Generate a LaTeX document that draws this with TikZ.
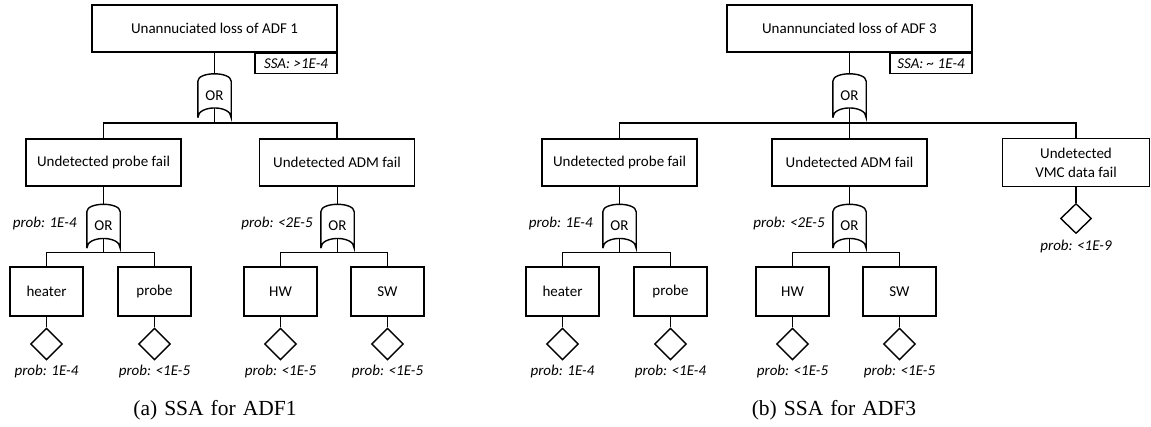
\documentclass[tikz,border=0pt]{standalone}
\usepackage{fontspec}
\setmainfont{Carlito}
\newfontfamily\capfont{Liberation Serif}
\usetikzlibrary{shapes.geometric,calc}

\tikzset{
  ln/.style={line width=1.4bp, draw=black},
  txt/.style={font=\fontsize{15bp}{19bp}\selectfont},
  topbox/.style={ln, rectangle, txt, inner sep=0pt, minimum width=245bp, minimum height=47bp},
  midbox/.style={ln, rectangle, txt, inner sep=0pt, minimum width=155bp, minimum height=47bp, align=center},
  leafbox/.style={ln, rectangle, txt, inner sep=0pt, minimum width=73bp, minimum height=49bp},
  ssabox/.style={ln, rectangle, inner sep=0pt, minimum width=82bp, minimum height=20bp, anchor=north east, font=\fontsize{15bp}{18bp}\itshape\selectfont},
  gatebox/.style={rectangle, inner sep=0pt, minimum width=33bp, minimum height=44bp, txt},
  evt/.style={ln, diamond, inner sep=0pt, minimum width=32bp, minimum height=32bp},
  prob/.style={inner sep=0pt, font=\fontsize{15bp}{18bp}\itshape\selectfont},
  gatelbl/.style={prob, anchor=east},
  capt/.style={inner sep=0pt, font=\capfont\fontsize{21.5bp}{24bp}\selectfont}
}

\newcommand{\orgatedraw}[1]{%
  \draw[ln] (#1.south west) -- ([yshift=-8bp]#1.north west)
    .. controls ([yshift=2bp]#1.north west) and ([yshift=2bp]#1.north east) .. ([yshift=-8bp]#1.north east)
    -- (#1.south east)
    .. controls ([yshift=13bp]#1.south east) and ([yshift=13bp]#1.south west) .. (#1.south west);
  \coordinate (#1out) at ([yshift=9.75bp]#1.south);
}

\begin{document}
\begin{tikzpicture}[x=1bp,y=-1bp]
\fill[white] (0,0) rectangle (1151,426);
\useasboundingbox (0,0) rectangle (1151,426);

%% ---------------- (a) ADF1 ----------------
\node[topbox] (top1) at (214.5,28.5) {Unannuciated loss of ADF 1};
\node[ssabox] (ssa1) at (top1.south east) {SSA: >1E-4};
\node[gatebox] (g1) at (214.5,95.5) {OR};
\orgatedraw{g1}
\draw[ln] (top1.south) -- (g1.north);

\node[midbox] (pf1) at (103.5,162.5) {Undetected probe fail};
\node[midbox] (adm1) at (337,162.5) {Undetected ADM fail};
\coordinate (bus1) at (214.5,123);
\draw[ln] (g1out) -- (bus1);
\draw[ln] (pf1.north) |- (bus1) -| (adm1.north);

\node[gatebox] (g2) at (103.5,226) {OR};
\orgatedraw{g2}
\node[gatebox] (g3) at (337.5,226) {OR};
\orgatedraw{g3}
\draw[ln] (pf1.south) -- (g2.north);
\draw[ln] (adm1.south -| g3.north) -- (g3.north);
\node[gatelbl] (pg2) at ([xshift=-10bp,yshift=3bp]g2.west) {prob: 1E-4};
\node[gatelbl] (pg3) at ([xshift=-8bp,yshift=3bp]g3.west) {prob: <2E-5};

\node[leafbox] (heat1) at (46.5,291.5) {heater};
\node[leafbox] (prb1) at (154.5,291.5) {probe};
\node[leafbox] (hw1) at (280.5,291.5) {HW};
\node[leafbox] (sw1) at (387.5,291.5) {SW};
\coordinate (bus2) at (103.5,252.5);
\coordinate (bus3) at (337.5,252.5);
\draw[ln] (g2out) -- (bus2);
\draw[ln] (g3out) -- (bus3);
\draw[ln] (heat1.north) |- (bus2) -| (prb1.north);
\draw[ln] (hw1.north) |- (bus3) -| (sw1.north);

\node[evt] (d1) at (46.5,344) {};
\node[evt] (d2) at (154.5,344) {};
\node[evt] (d3) at (280.5,344) {};
\node[evt] (d4) at (387.5,344) {};
\draw[ln] (heat1.south) -- (d1.north);
\draw[ln] (prb1.south) -- (d2.north);
\draw[ln] (hw1.south) -- (d3.north);
\draw[ln] (sw1.south) -- (d4.north);
\node[prob] (p1) at (46.5,371) {prob: 1E-4};
\node[prob] (p2) at (154.5,371) {prob: <1E-5};
\node[prob] (p3) at (280.5,371) {prob: <1E-5};
\node[prob] (p4) at (387.5,371) {prob: <1E-5};

\node[capt] (capa) at (215,410) {(a)\hspace{7bp}SSA\hspace{7bp}for\hspace{7bp}ADF1};

%% ---------------- (b) ADF3 ----------------
\node[topbox] (top3) at (849.5,28.5) {Unannunciated loss of ADF 3};
\node[ssabox] (ssa3) at (top3.south east) {SSA: \textasciitilde\ 1E-4};
\node[gatebox] (g4) at (849.5,95.5) {OR};
\orgatedraw{g4}
\draw[ln] (top3.south) -- (g4.north);

\node[midbox] (pf3) at (619.5,162.5) {Undetected probe fail};
\node[midbox] (adm3) at (849.5,162.5) {Undetected ADM fail};
\node[midbox, minimum width=147bp, minimum height=48bp] (vmc3) at (1076,162.5) {Undetected\\VMC data fail};
\coordinate (bus4) at (849.5,123);
\draw[ln] (g4out) -- (adm3.north);
\draw[ln] (pf3.north) |- (bus4) -| (vmc3.north);

\node[gatebox] (g5) at (619.5,226) {OR};
\orgatedraw{g5}
\node[gatebox] (g6) at (849.5,226) {OR};
\orgatedraw{g6}
\draw[ln] (pf3.south) -- (g5.north);
\draw[ln] (adm3.south) -- (g6.north);
\node[gatelbl] (pg5) at ([xshift=-10bp,yshift=3bp]g5.west) {prob: 1E-4};
\node[gatelbl] (pg6) at ([xshift=-8bp,yshift=3bp]g6.west) {prob: <2E-5};

\node[leafbox] (heat3) at (562.5,291.5) {heater};
\node[leafbox] (prb3) at (670.5,291.5) {probe};
\node[leafbox] (hw3) at (792.5,291.5) {HW};
\node[leafbox] (sw3) at (899.5,291.5) {SW};
\coordinate (bus5) at (619.5,252.5);
\coordinate (bus6) at (849.5,252.5);
\draw[ln] (g5out) -- (bus5);
\draw[ln] (g6out) -- (bus6);
\draw[ln] (heat3.north) |- (bus5) -| (prb3.north);
\draw[ln] (hw3.north) |- (bus6) -| (sw3.north);

\node[evt] (d5) at (562.5,344) {};
\node[evt] (d6) at (670.5,344) {};
\node[evt] (d7) at (792.5,344) {};
\node[evt] (d8) at (899.5,344) {};
\node[evt, minimum width=31bp, minimum height=30bp] (d9) at (1076,218.5) {};
\draw[ln] (heat3.south) -- (d5.north);
\draw[ln] (prb3.south) -- (d6.north);
\draw[ln] (hw3.south) -- (d7.north);
\draw[ln] (sw3.south) -- (d8.north);
\draw[ln] (vmc3.south) -- (d9.north);
\node[prob] (p5) at (562.5,371) {prob: 1E-4};
\node[prob] (p6) at (670.5,371) {prob: <1E-4};
\node[prob] (p7) at (792.5,371) {prob: <1E-5};
\node[prob] (p8) at (899.5,371) {prob: <1E-5};
\node[prob] (p9) at (1076,246) {prob: <1E-9};

\node[capt] (capb) at (834,410) {(b)\hspace{7bp}SSA\hspace{7bp}for\hspace{7bp}ADF3};
\end{tikzpicture}
\end{document}
